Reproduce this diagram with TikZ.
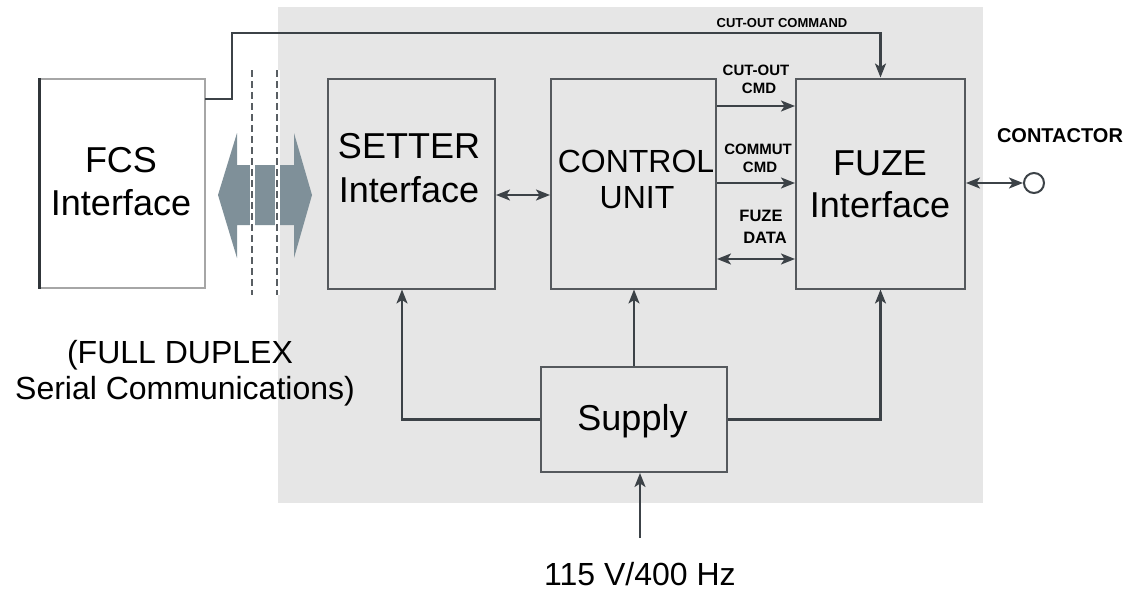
\documentclass[tikz,border=0pt]{standalone}
\usepackage{fontspec}
\setmainfont{Liberation Sans}
\usetikzlibrary{arrows.meta,calc}
\definecolor{bg}{HTML}{E6E6E6}
\definecolor{ln}{HTML}{3C4247}
\definecolor{bx}{HTML}{55595D}
\definecolor{bigarr}{HTML}{7F9099}
\begin{document}
\begin{tikzpicture}[x=1pt,y=-1pt,
  box/.style={draw=bx,line width=2pt,inner sep=0pt,rectangle},
  txt/.style={anchor=base,inner sep=0pt},
  bigtxt/.style={txt,font=\fontsize{36}{40}\selectfont},
  midtxt/.style={txt,font=\fontsize{32}{36}\selectfont},
  lbl/.style={txt,font=\bfseries\fontsize{#1}{#1}\selectfont},
  conn/.style={draw=ln,line width=2.2pt},
  arr/.style={conn,-{Stealth[length=14pt,width=11pt,inset=3.5pt]}},
  darr/.style={conn,{Stealth[length=14pt,width=11pt,inset=3.5pt]}-{Stealth[length=14pt,width=11pt,inset=3.5pt]}}]
\useasboundingbox (0,0) rectangle (1146,590);
\fill[white] (0,0) rectangle (1146,590);
% gray background
\fill[bg] (278,7) rectangle (983,503);

% boxes
\node[box,fill=white,draw=gray!70,minimum width=165pt,minimum height=209pt] (fcs) at (122.5,183.5) {};
\draw[draw=ln!80!black,line width=3pt] (fcs.north west) -- (fcs.south west);
\node[box,minimum width=167pt,minimum height=210pt] (setter) at (411.5,183.5) {};
\node[box,minimum width=165pt,minimum height=210pt] (cu) at (633.5,183.5) {};
\node[box,minimum width=169pt,minimum height=210pt] (fuze) at (880.5,183.5) {};
\node[box,minimum width=186pt,minimum height=105pt] (supply) at (634,419.5) {};

% box texts
\node[bigtxt] (fcs1) at (121,172) {FCS};
\node[bigtxt] (fcs2) at (121,215) {Interface};
\node[bigtxt] (set1) at (409,158) {SETTER};
\node[bigtxt] (set2) at (409,202) {Interface};
\node[txt,font=\fontsize{32}{36}\selectfont] (cu1) at (636,172) {CONTROL};
\node[txt,font=\fontsize{32}{36}\selectfont] (cu2) at (637,208) {UNIT};
\node[bigtxt] (fz1) at (880,175) {FUZE};
\node[bigtxt] (fz2) at (880,217) {Interface};
\node[bigtxt] (sup) at (632.5,430) {Supply};

% big gray double arrow between FCS and SETTER
\fill[bigarr] (218,195) -- (237,133) -- (237,165) -- (294,165) -- (294,133)
  -- (312,195) -- (294,258) -- (294,225) -- (237,225) -- (237,258) -- cycle;
\coordinate (d1t) at (252,70);
\coordinate (d1b) at (252,295);
\coordinate (d2t) at (277,70);
\coordinate (d2b) at (277,295);
\draw[white,line width=5pt] (d1t) -- (d1b);
\draw[white,line width=5pt] (d2t) -- (d2b);
\draw[ln!85,line width=1.5pt,dash pattern=on 7pt off 4pt] (d1t) -- (d1b);
\draw[ln!85,line width=1.5pt,dash pattern=on 7pt off 4pt] (d2t) -- (d2b);

% cut-out command
\coordinate (c1) at (205,99);
\coordinate (c2) at (232,99);
\coordinate (c3) at (232,33);
\draw[arr] (c1) -- (c2) -- (c3) -| (fuze.north);
\node[lbl=13] (cocmd) at (782,27) {CUT-OUT COMMAND};

% setter <-> control unit
\draw[darr] (setter.east |- 0,195) -- (cu.west |- 0,195);

% control unit -> fuze
\draw[arr] (cu.east |- 0,106) -- (fuze.west |- 0,106);
\draw[arr] (cu.east |- 0,183) -- (fuze.west |- 0,183);
\draw[darr] (cu.east |- 0,259) -- (fuze.west |- 0,259);
\node[lbl=15] (l1a) at (756,75) {CUT-OUT};
\node[lbl=15] (l1b) at (759,93) {CMD};
\node[lbl=15] (l2a) at (758,154) {COMMUT};
\node[lbl=15] (l2b) at (760,172) {CMD};
\node[lbl=16.5] (l3a) at (761,221) {FUZE};
\node[lbl=16.5] (l3b) at (765,243) {DATA};

% contactor
\node[circle,draw=ln,line width=2pt,minimum size=20pt,inner sep=0pt] (cont) at (1034,183) {};
\draw[darr] (fuze.east |- 0,183) -- (cont.west);
\node[lbl=20] (contl) at (1060,142) {CONTACTOR};

% supply connections
\draw[arr] (supply.west) -| ([xshift=-9.5pt]setter.south);
\draw[arr] (supply.north) -- (supply.north |- cu.south);
\draw[arr] (supply.east) -| (fuze.south);
\coordinate (pin) at (640,538);
\draw[arr] (pin) -- (pin |- supply.south);
\node[midtxt] (volt) at (640,585) {115 V/400 Hz};

% duplex note
\node[midtxt] (dup1) at (180,363) {(FULL DUPLEX};
\node[midtxt] (dup2) at (185,399) {Serial Communications)};
\end{tikzpicture}
\end{document}
